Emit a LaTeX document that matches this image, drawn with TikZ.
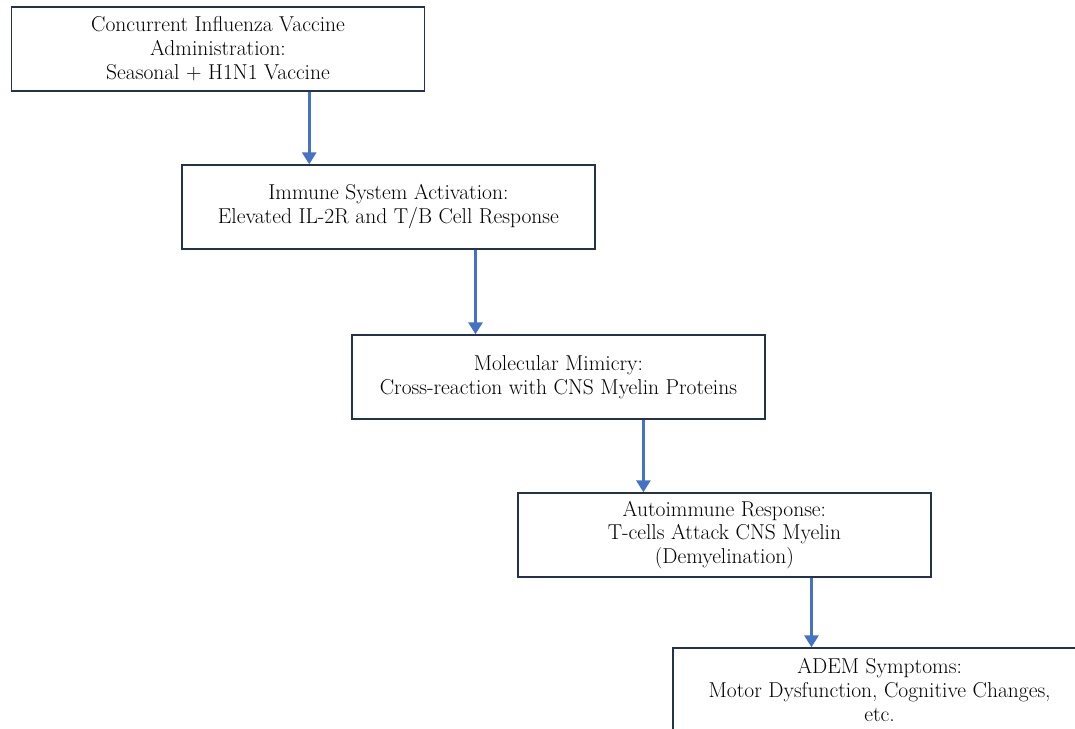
\documentclass[tikz,border=0pt]{standalone}
\usepackage{xcolor}
\usepackage{tikz}
\usetikzlibrary{arrows.meta, positioning, calc}
\definecolor{boxline}{HTML}{25324F}
\definecolor{flowblue}{HTML}{4472C4}

\begin{document}
\begin{tikzpicture}[
    stage/.style={rectangle, draw=boxline, line width=1pt, fill=white,
                  minimum width=10.33cm, minimum height=2.1cm, align=center,
                  font=\fontsize{15.3}{17}\selectfont},
    flow/.style={-{Triangle[length=3mm, width=3.5mm]}, line width=2.2pt, color=flowblue}
  ]
    \useasboundingbox (0,0) rectangle (26.875,-18.225);
    \clip (0,0) rectangle (26.875,-18.225);

    % Stages
    \node[stage] (vaccine) at (5.45,-1.225) {Concurrent Influenza Vaccine\\Administration:\\Seasonal + H1N1 Vaccine};
    \node[stage] (immune) at (9.71,-5.175) {Immune System Activation:\\Elevated IL-2R and T/B Cell Response};
    \node[stage] (mimicry) at (13.96,-9.425) {Molecular Mimicry:\\Cross-reaction with CNS Myelin Proteins};
    \node[stage] (autoimmune) at (18.11,-13.375) {Autoimmune Response:\\T-cells Attack CNS Myelin\\(Demyelination)};
    \node[stage] (adem) at (21.99,-17.25) {ADEM Symptoms:\\Motor Dysfunction, Cognitive Changes,\\etc.};

    % Arrows leave each box at the same point along its lower edge
    \coordinate (v1) at ($(vaccine.south west)!0.72!(vaccine.south east)$);
    \coordinate (v2) at ($(immune.south west)!0.71!(immune.south east)$);
    \coordinate (v3) at ($(mimicry.south west)!0.705!(mimicry.south east)$);
    \coordinate (v4) at ($(autoimmune.south west)!0.71!(autoimmune.south east)$);

    \draw[flow] (v1) -- (v1 |- immune.north);
    \draw[flow] (v2) -- (v2 |- mimicry.north);
    \draw[flow] (v3) -- (v3 |- autoimmune.north);
    \draw[flow] (v4) -- (v4 |- adem.north);
  \end{tikzpicture}
\end{document}
